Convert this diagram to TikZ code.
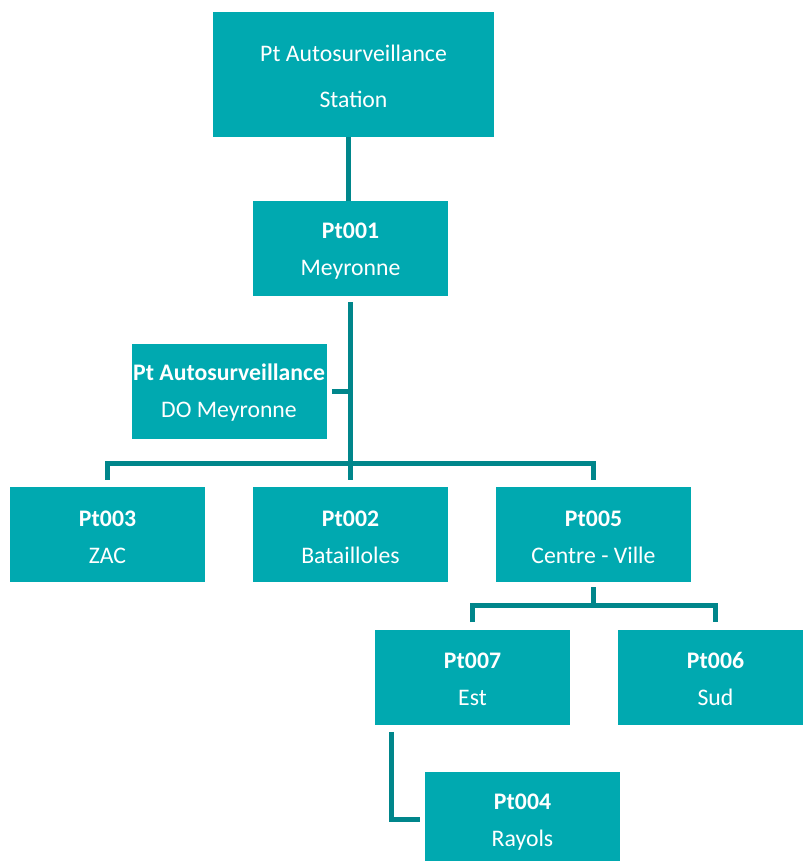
\documentclass[tikz,border=0pt]{standalone}
\usepackage{fontspec}
\setmainfont{Carlito}
\usepackage{tikz}
\usetikzlibrary{calc, positioning}
\definecolor{tealbox}{HTML}{00A9B0}
\definecolor{tealline}{HTML}{00868B}
\newcommand{\toprow}{\rule{0pt}{15.5pt}}
\tikzset{
    unit/.style={rectangle, fill=tealbox, text=white, align=center, minimum width=146.25pt, minimum height=71.25pt, inner sep=0pt, font=\fontsize{17.8}{27.75}\selectfont},
    topunit/.style={unit, minimum width=210.75pt, minimum height=93.75pt, font=\fontsize{17.8}{34.5}\selectfont},
    link/.style={draw=tealline, line width=3.75pt}
}

\begin{document}
\begin{tikzpicture}[x=0.75pt, y=-0.75pt]
        \useasboundingbox (0,0) rectangle (803,861);

        % Boxes
        \node[topunit] (station) at (353.5,74.5) {\toprow Pt Autosurveillance\\Station};
        \node[unit] (p001) at (350.5,248.5) {\toprow\textbf{Pt001}\\Meyronne};
        \node[unit] (do) at (229,391) {\toprow\textbf{Pt Autosurveillance}\\DO Meyronne};
        \node[unit] (p003) at (107.5,534.5) {\toprow\textbf{Pt003}\\ZAC};
        \node[unit] (p002) at (350.5,534.5) {\toprow\textbf{Pt002}\\Batailloles};
        \node[unit] (p005) at (593.5,534.5) {\toprow\textbf{Pt005}\\Centre - Ville};
        \node[unit] (p007) at (472.5,677) {\toprow\textbf{Pt007}\\Est};
        \node[unit] (p006) at (715.5,677) {\toprow\textbf{Pt006}\\Sud};
        \node[unit] (p004) at (522.5,819.5) {\toprow\textbf{Pt004}\\Rayols};

        % Buses
        \coordinate (bus1) at (0,463);
        \coordinate (bus2) at (0,605);
        \coordinate (drop) at ($(p007.south west)+(17,7)$);

        % Links
        \draw[link] ($(p001.north |- station.south)+(-2,0)$) -- ($(p001.north)+(-2,0)$);
        \draw[link] ($(p001.south)+(0,6)$) -- ($(p002.north)+(0,-7)$);
        \draw[link] ($(do.east)+(5,0)$) -- (p001.south |- do.east);
        \draw[link] ($(p003.north)+(0,-7)$) -- (p003.north |- bus1) -- (p005.north |- bus1) -- ($(p005.north)+(0,-7)$);
        \draw[link] ($(p005.south)+(0,5)$) -- (p005.south |- bus2);
        \draw[link] ($(p007.north)+(0,-7)$) -- (p007.north |- bus2) -- (p006.north |- bus2) -- ($(p006.north)+(0,-7)$);
        \draw[link] (drop) -- (drop |- p004.west) -- ($(p004.west)+(-5,0)$);
    \end{tikzpicture}
\end{document}
